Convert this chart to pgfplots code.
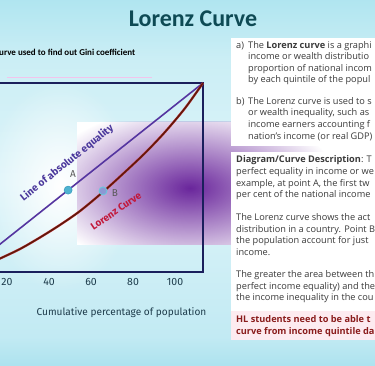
\documentclass[border=0pt]{standalone}
\usepackage{pgfplots}
\pgfplotsset{compat=1.18}
\usepackage{fontspec}
\setmainfont{Open Sans}
\newfontfamily\titlefont{Carlito}
\newfontfamily\axisfont{Fira Sans}
\usetikzlibrary{fadings}
\definecolor{bgA}{HTML}{3CB8D8}
\definecolor{bgB}{HTML}{4BC0DC}
\definecolor{bgC}{HTML}{88D6E7}
\definecolor{bgD}{HTML}{C2EAF3}
\definecolor{bgE}{HTML}{DDF4F9}
\definecolor{bgF}{HTML}{CBEEF5}
\definecolor{bgG}{HTML}{A6E2EE}
\definecolor{bgH}{HTML}{5CC8DF}
\definecolor{bgI}{HTML}{3FC0D9}
\definecolor{purp}{HTML}{6A269C}
\definecolor{boxc}{HTML}{1A1F5C}
\definecolor{eqc}{HTML}{5535A0}
\definecolor{eqt}{HTML}{4B389C}
\definecolor{lzhalo}{HTML}{C8303C}
\definecolor{lzcore}{HTML}{5E1A0A}
\definecolor{lzt}{HTML}{C2183A}
\definecolor{ac}{HTML}{4FB3D0}
\definecolor{acd}{HTML}{3A9EC0}
\definecolor{bc}{HTML}{8C98D4}
\definecolor{bcd}{HTML}{66C9DE}
\definecolor{titc}{HTML}{0E4A54}
\definecolor{tickc}{HTML}{1D3B4B}
\definecolor{txt}{HTML}{3A3A3A}
\definecolor{hlc}{HTML}{8A1C1C}
\definecolor{hlbg}{HTML}{FDEBF0}
\definecolor{pinkl}{HTML}{F2C4EC}
\pgfdeclareverticalshading{bgsh}{100bp}{color(0bp)=(bgA); color(7bp)=(bgB); color(18bp)=(bgC); color(29bp)=(bgD); color(50bp)=(bgE); color(67bp)=(bgF); color(78bp)=(bgG); color(90bp)=(bgH); color(100bp)=(bgI)}
\tikzfading[name=glow, inner color=transparent!0, outer color=transparent!100]
\newcommand{\tl}[3]{\node[anchor=base west, inner sep=0pt, text height=6.5pt, text depth=1.8pt, text=txt, font=\fontsize{9.2}{10}\selectfont] at (#1,363-#2) {#3};}
\begin{document}
\begin{tikzpicture}[x=1pt,y=1pt]
\useasboundingbox (0,0) rectangle (375,366);
\clip (0,0) rectangle (375,366);
\shade[shading=bgsh] (0,0) rectangle (375,366);
\fill[white, path fading=glow] (60,180) ellipse (75 and 105);
\fill[white] (77,121) rectangle (375,244);
\begin{scope}
\clip (77,121) rectangle (375,244);
\fill[purp, path fading=glow] (190,178) ellipse (150 and 82);
\end{scope}
\draw[pinkl, line width=1.2pt] (7,288.5) -- (152,288.5);
\begin{axis}[at={(-35pt,94pt)}, anchor=south west, scale only axis,
  width=238pt, height=189pt,
  xmin=0, xmax=113.3, ymin=0, ymax=113.3,
  axis line style={draw=boxc, line width=2.2pt},
  xtick={20,40,60,80,100}, ytick=\empty, major tick length=0pt,
  /pgf/number format/assume math mode=true,
  xticklabel style={font=\axisfont\fontsize{10.5}{11}\selectfont, text=tickc, yshift=-2.5pt},
  clip=false]
\addplot[draw=eqc, line width=1.6pt] coordinates {(0,0) (113.3,113.3)};
\addplot[draw=lzhalo, line width=2.3pt, smooth] coordinates {(0,0) (8.6,3.6) (16.7,8.1) (26.2,13.8) (35.7,20.7) (45.2,28.2) (54.8,36.6) (65.7,48.0) (76.2,60.0) (85.7,71.3) (95.2,83.9) (104.8,98.3) (113.3,113.3)};
\addplot[draw=lzcore, line width=1.5pt, smooth] coordinates {(0,0) (8.6,3.6) (16.7,8.1) (26.2,13.8) (35.7,20.7) (45.2,28.2) (54.8,36.6) (65.7,48.0) (76.2,60.0) (85.7,71.3) (95.2,83.9) (104.8,98.3) (113.3,113.3)};
\addplot[only marks, mark=*, mark size=4pt, mark options={fill=ac, draw=acd, line width=0.6pt}] coordinates {(49.1,49.1)};
\addplot[only marks, mark=*, mark size=4pt, mark options={fill=bc, draw=bcd, line width=0.8pt}] coordinates {(65.7,48.6)};
\end{axis}
\node[rotate=38.5, inner sep=0pt, text=eqt, font=\axisfont\bfseries\fontsize{10.2}{11}\selectfont] at (67,203) {Line of absolute equality};
\node[rotate=34, inner sep=0pt, text=lzt, font=\axisfont\bfseries\fontsize{10}{11}\selectfont] at (116,155) {Lorenz Curve};
\node[inner sep=0pt, text=black!65, font=\axisfont\fontsize{10}{11}\selectfont] at (73,192) {A};
\node[inner sep=0pt, text=black!65, font=\axisfont\fontsize{10}{11}\selectfont] at (115,173) {B};
\node[text=tickc, font=\axisfont\fontsize{10.1}{11}\selectfont] at (121.5,53) {Cumulative percentage of population};
\node[text=titc, font=\titlefont\bfseries\fontsize{24}{26}\selectfont] at (193,347) {Lorenz Curve};
\node[anchor=west, inner sep=0pt, font=\titlefont\bfseries\fontsize{9}{10}\selectfont] at (-1,314) {urve used to find out Gini coefficient};
% panel 1
\fill[white] (231,220) rectangle (380,328);
\tl{236}{46}{a)}
\tl{248}{46}{The \textbf{Lorenz curve} is a graphi}
\tl{248}{57}{income or wealth distributio}
\tl{248}{69}{proportion of national incom}
\tl{248}{80}{by each quintile of the popul}
\tl{236}{102}{b)}
\tl{248}{102}{The Lorenz curve is used to s}
\tl{248}{113}{or wealth inequality, such as}
\tl{248}{125}{income earners accounting f}
\tl{248}{137}{nation's income (or real GDP)}
% panel 2
\fill[white] (231,26) rectangle (380,214);
\fill[hlbg] (231,26) rectangle (380,55);
\tl{236}{160}{\textbf{Diagram/Curve Description}: T}
\tl{236}{172}{perfect equality in income or we}
\tl{236}{184}{example, at point A, the first tw}
\tl{236}{195}{per cent of the national income}
\tl{236}{218}{The Lorenz curve shows the act}
\tl{236}{230}{distribution in a country. Point B}
\tl{236}{241}{the population account for just}
\tl{236}{253}{income.}
\tl{236}{275}{The greater the area between th}
\tl{236}{287}{perfect income equality) and the}
\tl{236}{298}{the income inequality in the cou}
\tl{236}{320}{\textcolor{hlc}{\textbf{HL students need to be able t}}}
\tl{236}{332}{\textcolor{hlc}{\textbf{curve from income quintile da}}}
\end{tikzpicture}
\end{document}
